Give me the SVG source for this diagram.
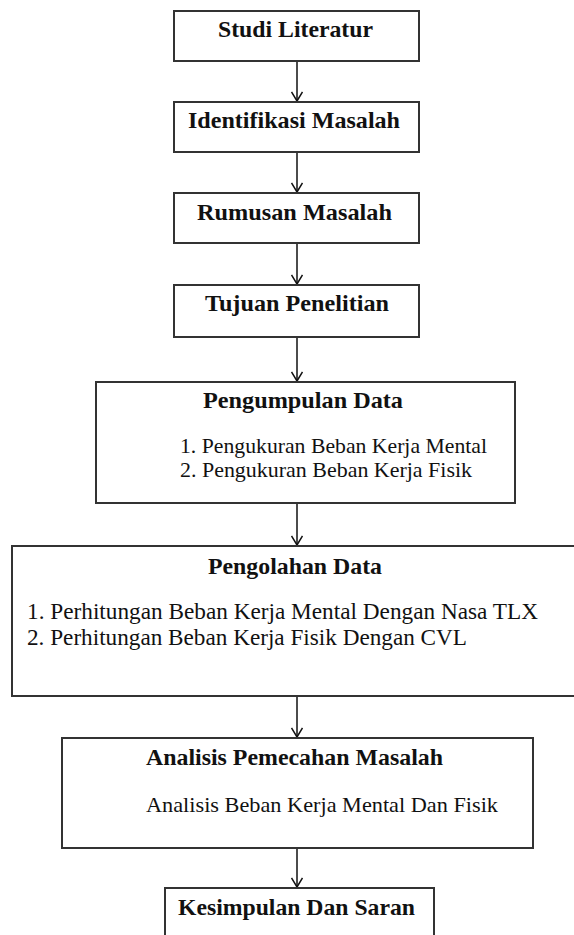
<svg xmlns="http://www.w3.org/2000/svg" width="574" height="935" viewBox="0 0 574 935">
<style>
.box{fill:#fff;stroke:#333;stroke-width:2}
.t{font-family:"Liberation Serif","Times New Roman",serif;font-weight:bold;font-size:23px;fill:#111}
.s{font-family:"Liberation Serif","Times New Roman",serif;font-size:22px;fill:#111}
.l{font-size:24px}
.c{stroke:#111;stroke-width:1.5;fill:none}
</style>
<defs>
<marker id="ah" viewBox="0 0 12 12" refX="10" refY="6" markerWidth="12" markerHeight="12" markerUnits="userSpaceOnUse" orient="auto">
<path d="M1,0.5 L10,6 L1,11.5" fill="none" stroke="#111" stroke-width="1.5"/>
</marker>
</defs>
<rect width="574" height="935" fill="#fff"/>
<g id="connectors">
<line class="c" x1="297" y1="61" x2="297" y2="101" marker-end="url(#ah)"/>
<line class="c" x1="297" y1="152" x2="297" y2="192" marker-end="url(#ah)"/>
<line class="c" x1="297" y1="243" x2="297" y2="284" marker-end="url(#ah)"/>
<line class="c" x1="297" y1="337" x2="297" y2="381" marker-end="url(#ah)"/>
<line class="c" x1="297" y1="503" x2="297" y2="545" marker-end="url(#ah)"/>
<line class="c" x1="297" y1="696" x2="297" y2="737" marker-end="url(#ah)"/>
<line class="c" x1="297" y1="848" x2="297" y2="887" marker-end="url(#ah)"/>
</g>
<g id="studi-literatur">
<rect class="box" x="174" y="11" width="245" height="50"/>
<text class="t" x="218" y="37" textLength="155" lengthAdjust="spacingAndGlyphs">Studi Literatur</text>
</g>
<g id="identifikasi-masalah">
<rect class="box" x="174" y="102" width="245" height="50"/>
<text class="t" x="188" y="128" textLength="212" lengthAdjust="spacingAndGlyphs">Identifikasi Masalah</text>
</g>
<g id="rumusan-masalah">
<rect class="box" x="174" y="193" width="245" height="50"/>
<text class="t" x="197" y="220" textLength="195" lengthAdjust="spacingAndGlyphs">Rumusan Masalah</text>
</g>
<g id="tujuan-penelitian">
<rect class="box" x="174" y="285" width="245" height="52"/>
<text class="t" x="205" y="311" textLength="184" lengthAdjust="spacingAndGlyphs">Tujuan Penelitian</text>
</g>
<g id="pengumpulan-data">
<rect class="box" x="96" y="382" width="419" height="121"/>
<text class="t" x="203" y="408" textLength="200" lengthAdjust="spacingAndGlyphs">Pengumpulan Data</text>
<text class="s" x="180" y="453" textLength="307" lengthAdjust="spacingAndGlyphs">1. Pengukuran Beban Kerja Mental</text>
<text class="s" x="180" y="477" textLength="292" lengthAdjust="spacingAndGlyphs">2. Pengukuran Beban Kerja Fisik</text>
</g>
<g id="pengolahan-data">
<rect class="box" x="12" y="546" width="580" height="150"/>
<text class="t" x="208" y="574" textLength="174" lengthAdjust="spacingAndGlyphs">Pengolahan Data</text>
<text class="s l" x="27" y="619" textLength="511" lengthAdjust="spacingAndGlyphs">1. Perhitungan Beban Kerja  Mental Dengan Nasa TLX</text>
<text class="s l" x="27" y="645" textLength="440" lengthAdjust="spacingAndGlyphs">2. Perhitungan Beban Kerja  Fisik Dengan CVL</text>
</g>
<g id="analisis-pemecahan-masalah">
<rect class="box" x="62" y="738" width="471" height="110"/>
<text class="t" x="146" y="765" textLength="297" lengthAdjust="spacingAndGlyphs">Analisis Pemecahan Masalah</text>
<text class="s" x="146" y="812" textLength="352" lengthAdjust="spacingAndGlyphs">Analisis Beban Kerja Mental Dan Fisik</text>
</g>
<g id="kesimpulan-dan-saran">
<rect class="box" x="165" y="888" width="269" height="60"/>
<text class="t" x="178" y="915" textLength="237" lengthAdjust="spacingAndGlyphs">Kesimpulan Dan Saran</text>
</g>
</svg>
